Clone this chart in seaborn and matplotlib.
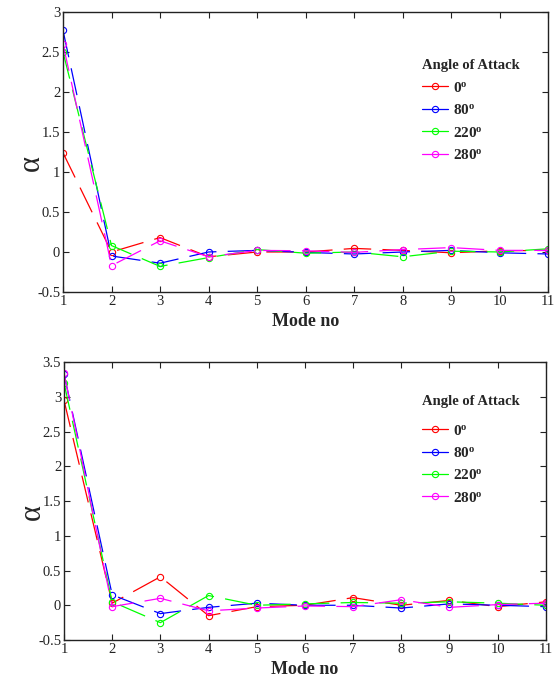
import matplotlib
matplotlib.use("Agg")
import matplotlib.pyplot as plt
from matplotlib.lines import Line2D
import seaborn as sns
import pandas as pd

modes = [1, 2, 3, 4, 5, 6, 7, 8, 9, 10, 11]
angles = ["0", "80", "220", "280"]
colors = ["#ff0000", "#0000ff", "#00ff00", "#ff00ff"]

top_0 = [1.24, 0.00, 0.18, -0.06, 0.00, 0.00, 0.045, 0.02, -0.01, 0.015, 0.02]
top_80 = [2.77, -0.05, -0.14, 0.00, 0.02, -0.005, -0.025, 0.00, 0.02, -0.01, -0.025]
top_220 = [2.50, 0.08, -0.18, -0.07, 0.03, -0.015, 0.00, -0.06, 0.01, 0.00, 0.04]
top_280 = [2.60, -0.17, 0.14, -0.06, 0.02, 0.015, -0.005, 0.03, 0.055, 0.02, 0.02]

bot_0 = [2.95, 0.03, 0.41, -0.15, -0.02, 0.00, 0.11, 0.00, 0.07, -0.02, 0.05]
bot_80 = [3.33, 0.15, -0.12, -0.03, 0.03, 0.00, 0.00, -0.04, 0.02, 0.00, -0.02]
bot_220 = [3.20, 0.05, -0.25, 0.14, 0.00, 0.02, 0.04, 0.03, 0.05, 0.03, 0.00]
bot_280 = [3.34, -0.02, 0.10, -0.08, -0.04, -0.01, -0.02, 0.08, -0.03, 0.01, 0.03]

top_yticks = [-0.5, 0, 0.5, 1, 1.5, 2, 2.5, 3]
top_yticklabels = ["-0.5", "0", "0.5", "1", "1.5", "2", "2.5", "3"]
bot_yticks = [-0.5, 0, 0.5, 1, 1.5, 2, 2.5, 3, 3.5]
bot_yticklabels = ["-0.5", "0", "0.5", "1", "1.5", "2", "2.5", "3", "3.5"]


def make_df(series):
    rows = []
    for ang, vals in zip(angles, series):
        for m, v in zip(modes, vals):
            rows.append({"mode": m, "alpha": v, "angle": ang})
    return pd.DataFrame(rows)


sns.set_theme(style="white")
plt.rcParams["font.family"] = ["Liberation Serif", "DejaVu Serif"]
plt.rcParams["mathtext.fontset"] = "custom"
plt.rcParams["mathtext.rm"] = "Liberation Serif"
plt.rcParams["mathtext.bf"] = "Liberation Serif:bold"
plt.rcParams["mathtext.it"] = "Liberation Serif:italic"

fig = plt.figure(figsize=(5.59, 6.8), dpi=100)
ax1 = fig.add_axes([0.1127, 0.5706, 0.868, 0.4118])
ax2 = fig.add_axes([0.1145, 0.0588, 0.862, 0.4088])

configs = [
    (ax1, [top_0, top_80, top_220, top_280], (-0.5, 3), top_yticks, top_yticklabels, (0.731, 0.933), 0),
    (ax2, [bot_0, bot_80, bot_220, bot_280], (-0.5, 3.5), bot_yticks, bot_yticklabels, (0.731, 0.439), 5),
]

for ax, series, ylim, yt, ytl, legpos, extra_sep in configs:
    df = make_df(series)
    sns.lineplot(data=df, x="mode", y="alpha", hue="angle", hue_order=angles,
                 palette=colors, marker="o", markersize=4.5, markerfacecolor="none",
                 markeredgewidth=0.8, linewidth=0.9, linestyle=(0, (22, 9)),
                 legend=False, ax=ax, sort=False)
    for ln in ax.lines:
        ln.set_markeredgecolor(ln.get_color())
    ax.set_xlim(1, 11)
    ax.set_ylim(*ylim)
    ax.set_xticks(modes)
    ax.set_xticklabels([str(m) for m in modes], fontsize=10.5)
    ax.set_yticks(yt)
    ax.set_yticklabels(ytl, fontsize=10.5)
    ax.tick_params(direction="in", length=4, width=0.8, top=True, right=True,
                   bottom=True, left=True, pad=2, colors="#222222")
    for s in ax.spines.values():
        s.set_linewidth(1.0)
        s.set_color("#222222")
    ax.set_xlabel("Mode no", fontsize=13, fontweight="bold", labelpad=4)
    ax.set_ylabel("α", fontsize=22)
    ax.yaxis.set_label_coords(-0.035, 0.46)
    handles = [Line2D([0], [0], color=c, marker="o", markerfacecolor="none",
                      markersize=4.5, markeredgewidth=0.8, linewidth=0.9)
               for c in colors]
    labels = [r"$\mathbf{%s^o}$" % a for a in angles]
    leg = ax.legend(handles, labels, title="Angle of Attack", loc="upper left",
                    bbox_to_anchor=legpos, bbox_transform=fig.transFigure,
                    frameon=False, prop={"weight": "bold", "size": 11},
                    title_fontproperties={"weight": "bold", "size": 10.5},
                    handlelength=1.7, handletextpad=0.3, labelspacing=0.55,
                    alignment="left")
    if extra_sep:
        leg._legend_box.sep += extra_sep
    leg._legend_handle_box.align = "baseline"

fig.savefig("out.png", dpi=100)
